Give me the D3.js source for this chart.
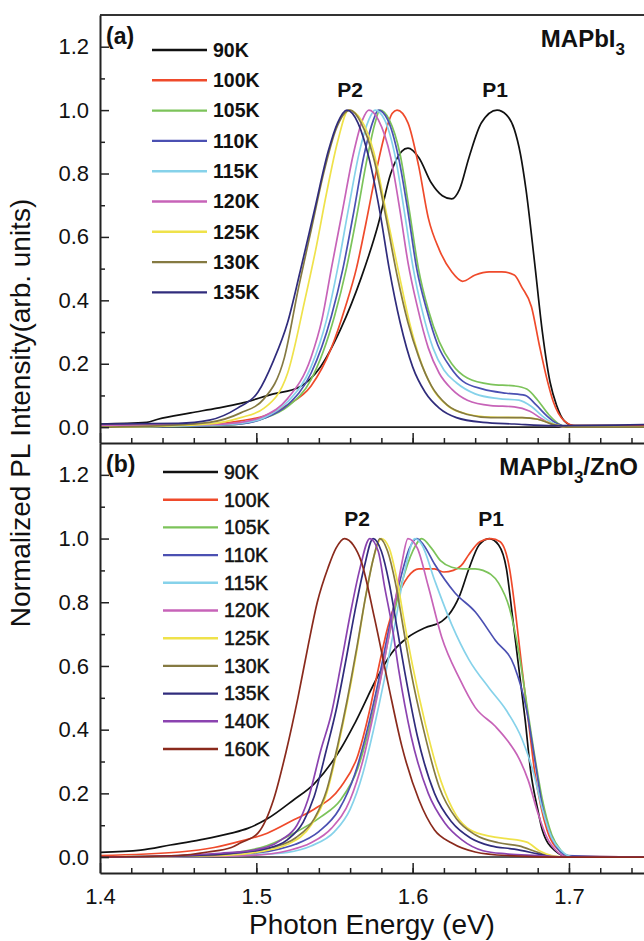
<!DOCTYPE html>
<html>
<head>
<meta charset="utf-8">
<script src="https://cdn.jsdelivr.net/npm/d3@7"></script>
<style>
  body { margin: 0; background: #fff; }
  text { font-family: 'Liberation Sans', Arial, sans-serif; fill: #111; }
</style>
</head>
<body>
<div id="chart"></div>
<script>
// tick values
const energyTicks = [1.4, 1.5, 1.6, 1.7]
const energyMinor = d3.range(1.42, 1.75, 0.02)
const intensityTicks = [0, 0.2, 0.4, 0.6, 0.8, 1.0, 1.2]
const intensityMinor = [0.1, 0.3, 0.5, 0.7, 0.9, 1.1]

// legend labels + colours
const tempsA = ['90K', '100K', '105K', '110K', '115K', '120K', '125K', '130K', '135K']
const tempsB = ['90K', '100K', '105K', '110K', '115K', '120K', '125K', '130K', '135K', '140K', '160K']
const tempColors = {
  '90K': '#111111', '100K': '#ef4a2b', '105K': '#7cc35a', '110K': '#4b50b2',
  '115K': '#86d2ea', '120K': '#c763b8', '125K': '#efe24a', '130K': '#857a42',
  '135K': '#302c7c', '140K': '#8b43b0', '160K': '#8a2a1c'
}

// (a) MAPbI3, [photon energy eV, normalized PL]
const a90K = [[1.40,0.01],[1.43,0.015],[1.437,0.025],[1.458,0.045],[1.475,0.06],[1.49,0.075],[1.511,0.105],[1.527,0.125],[1.541,0.19],[1.554,0.31],[1.567,0.47],[1.578,0.64],[1.586,0.80],[1.593,0.87],[1.597,0.88],[1.604,0.85],[1.612,0.77],[1.619,0.73],[1.625,0.72],[1.63,0.75],[1.636,0.85],[1.644,0.96],[1.654,1.0],[1.66,0.985],[1.665,0.94],[1.669,0.86],[1.6725,0.75],[1.678,0.52],[1.683,0.30],[1.688,0.14],[1.692,0.07],[1.697,0.02],[1.703,0.005],[1.75,0.005]]
const a100K = [[1.40,0.005],[1.469,0.008],[1.49,0.02],[1.505,0.035],[1.52,0.07],[1.535,0.13],[1.548,0.25],[1.557,0.38],[1.564,0.50],[1.57,0.64],[1.576,0.79],[1.582,0.92],[1.587,0.99],[1.59,1.0],[1.597,0.96],[1.604,0.82],[1.61,0.66],[1.617,0.56],[1.625,0.49],[1.632,0.46],[1.64,0.48],[1.649,0.49],[1.657,0.49],[1.665,0.48],[1.67,0.44],[1.676,0.38],[1.681,0.26],[1.686,0.15],[1.69,0.08],[1.697,0.02],[1.704,0.005],[1.75,0.005]]
const a105K = [[1.40,0.0],[1.47,0.004],[1.49,0.01],[1.505,0.028],[1.52,0.065],[1.535,0.15],[1.55,0.35],[1.5576,0.50],[1.564,0.66],[1.571,0.85],[1.576,0.96],[1.579,1.0],[1.585,0.97],[1.592,0.86],[1.598,0.68],[1.6037,0.50],[1.61,0.37],[1.617,0.27],[1.625,0.20],[1.635,0.155],[1.65,0.135],[1.665,0.13],[1.673,0.12],[1.68,0.085],[1.687,0.04],[1.693,0.012],[1.70,0.0],[1.75,0.0]]
const a110K = [[1.40,0.0],[1.47,0.005],[1.49,0.01],[1.505,0.028],[1.52,0.07],[1.535,0.17],[1.548,0.35],[1.5554,0.50],[1.562,0.67],[1.569,0.86],[1.575,0.97],[1.578,1.0],[1.584,0.97],[1.591,0.85],[1.597,0.68],[1.6026,0.50],[1.609,0.37],[1.616,0.26],[1.624,0.19],[1.632,0.145],[1.645,0.12],[1.66,0.107],[1.672,0.10],[1.679,0.07],[1.686,0.035],[1.692,0.012],[1.70,0.0],[1.75,0.0]]
const a115K = [[1.40,0.0],[1.47,0.006],[1.49,0.012],[1.505,0.03],[1.52,0.08],[1.535,0.19],[1.545,0.34],[1.552,0.50],[1.559,0.69],[1.566,0.87],[1.572,0.97],[1.576,1.0],[1.582,0.97],[1.589,0.85],[1.595,0.67],[1.6004,0.50],[1.606,0.37],[1.613,0.25],[1.62,0.18],[1.628,0.14],[1.64,0.105],[1.655,0.09],[1.668,0.085],[1.676,0.065],[1.683,0.035],[1.69,0.012],[1.698,0.0],[1.75,0.0]]
const a120K = [[1.40,0.005],[1.47,0.008],[1.49,0.015],[1.505,0.035],[1.52,0.09],[1.535,0.22],[1.542,0.34],[1.548,0.50],[1.555,0.68],[1.562,0.86],[1.568,0.97],[1.572,1.0],[1.578,0.97],[1.586,0.85],[1.592,0.68],[1.597,0.52],[1.603,0.38],[1.61,0.25],[1.617,0.17],[1.625,0.12],[1.635,0.085],[1.65,0.068],[1.665,0.064],[1.675,0.05],[1.683,0.025],[1.69,0.008],[1.70,0.0],[1.75,0.0]]
const a125K = [[1.40,0.0],[1.44,0.003],[1.47,0.01],[1.49,0.03],[1.505,0.06],[1.52,0.17],[1.531,0.40],[1.538,0.56],[1.545,0.74],[1.552,0.90],[1.559,1.0],[1.567,0.97],[1.575,0.87],[1.583,0.68],[1.591,0.49],[1.598,0.33],[1.605,0.21],[1.613,0.12],[1.623,0.065],[1.636,0.04],[1.65,0.032],[1.67,0.03],[1.68,0.025],[1.69,0.01],[1.70,0.0],[1.75,0.0]]
const a130K = [[1.40,0.0],[1.44,0.005],[1.47,0.015],[1.49,0.045],[1.505,0.09],[1.518,0.22],[1.527,0.44],[1.535,0.62],[1.543,0.80],[1.551,0.94],[1.56,1.0],[1.567,0.96],[1.575,0.85],[1.583,0.66],[1.59,0.48],[1.597,0.33],[1.604,0.22],[1.612,0.13],[1.622,0.07],[1.635,0.04],[1.65,0.03],[1.67,0.03],[1.68,0.025],[1.69,0.008],[1.70,0.0],[1.75,0.0]]
const a135K = [[1.40,0.01],[1.45,0.012],[1.47,0.022],[1.488,0.06],[1.501,0.11],[1.511,0.21],[1.52,0.33],[1.528,0.49],[1.537,0.68],[1.546,0.87],[1.552,0.96],[1.558,1.0],[1.565,0.96],[1.572,0.85],[1.579,0.68],[1.585,0.50],[1.592,0.33],[1.60,0.19],[1.608,0.11],[1.617,0.06],[1.628,0.03],[1.645,0.015],[1.665,0.01],[1.69,0.005],[1.75,0.008]]

// (b) MAPbI3/ZnO
const b90K = [[1.40,0.015],[1.426,0.022],[1.445,0.038],[1.464,0.054],[1.484,0.075],[1.4945,0.09],[1.507,0.12],[1.524,0.18],[1.537,0.23],[1.554,0.34],[1.563,0.42],[1.578,0.57],[1.5865,0.64],[1.597,0.69],[1.608,0.72],[1.6186,0.74],[1.623,0.76],[1.63,0.82],[1.636,0.905],[1.6425,0.98],[1.649,1.0],[1.655,0.98],[1.66,0.905],[1.664,0.75],[1.668,0.59],[1.672,0.43],[1.6755,0.27],[1.68,0.15],[1.683,0.084],[1.691,0.02],[1.70,0.0],[1.75,0.0]]
const b100K = [[1.40,0.005],[1.451,0.016],[1.473,0.03],[1.49,0.05],[1.507,0.075],[1.524,0.117],[1.537,0.15],[1.554,0.22],[1.565,0.32],[1.572,0.45],[1.578,0.59],[1.584,0.72],[1.589,0.80],[1.597,0.88],[1.604,0.905],[1.614,0.905],[1.62,0.895],[1.626,0.90],[1.631,0.915],[1.636,0.95],[1.643,0.99],[1.65,1.0],[1.656,0.99],[1.662,0.905],[1.666,0.76],[1.67,0.59],[1.674,0.43],[1.678,0.27],[1.682,0.16],[1.686,0.084],[1.694,0.02],[1.702,0.002],[1.75,0.0]]
const b105K = [[1.40,0.0],[1.47,0.008],[1.503,0.03],[1.524,0.075],[1.5415,0.127],[1.554,0.18],[1.565,0.28],[1.572,0.40],[1.579,0.55],[1.586,0.72],[1.593,0.86],[1.60,0.96],[1.6058,1.0],[1.612,0.97],[1.618,0.93],[1.625,0.91],[1.632,0.905],[1.64,0.905],[1.645,0.90],[1.655,0.86],[1.662,0.78],[1.668,0.64],[1.673,0.48],[1.678,0.32],[1.683,0.18],[1.689,0.07],[1.695,0.02],[1.70,0.0],[1.75,0.0]]
const b110K = [[1.40,0.0],[1.47,0.004],[1.49,0.008],[1.51,0.02],[1.525,0.04],[1.54,0.08],[1.553,0.15],[1.563,0.26],[1.571,0.40],[1.578,0.55],[1.585,0.72],[1.592,0.87],[1.598,0.97],[1.6026,1.0],[1.607,0.98],[1.614,0.92],[1.627,0.83],[1.64,0.77],[1.653,0.68],[1.665,0.60],[1.673,0.46],[1.678,0.31],[1.683,0.16],[1.69,0.05],[1.699,0.005],[1.75,0.0]]
const b115K = [[1.40,0.0],[1.48,0.004],[1.50,0.008],[1.52,0.015],[1.535,0.035],[1.55,0.08],[1.56,0.15],[1.568,0.26],[1.575,0.40],[1.582,0.56],[1.589,0.74],[1.595,0.90],[1.6015,1.0],[1.606,0.98],[1.614,0.87],[1.625,0.73],[1.636,0.62],[1.649,0.53],[1.66,0.46],[1.67,0.37],[1.677,0.27],[1.683,0.15],[1.689,0.06],[1.695,0.02],[1.703,0.0],[1.75,0.0]]
const b120K = [[1.40,0.0],[1.48,0.003],[1.50,0.006],[1.52,0.02],[1.535,0.045],[1.548,0.09],[1.56,0.18],[1.568,0.30],[1.575,0.45],[1.582,0.62],[1.588,0.78],[1.593,0.92],[1.597,1.0],[1.603,0.97],[1.61,0.85],[1.6186,0.69],[1.63,0.56],[1.64,0.47],[1.653,0.41],[1.66,0.37],[1.668,0.31],[1.674,0.24],[1.68,0.14],[1.686,0.06],[1.693,0.015],[1.70,0.0],[1.75,0.0]]
const b125K = [[1.40,0.0],[1.48,0.005],[1.50,0.015],[1.52,0.04],[1.535,0.10],[1.545,0.20],[1.552,0.34],[1.558,0.48],[1.564,0.64],[1.57,0.82],[1.575,0.94],[1.58,1.0],[1.585,0.97],[1.59,0.87],[1.595,0.73],[1.60,0.60],[1.608,0.42],[1.618,0.24],[1.628,0.13],[1.637,0.085],[1.65,0.065],[1.66,0.058],[1.673,0.047],[1.681,0.02],[1.689,0.005],[1.70,0.0],[1.75,0.0]]
const b130K = [[1.40,0.0],[1.47,0.005],[1.49,0.015],[1.51,0.03],[1.525,0.06],[1.537,0.12],[1.545,0.21],[1.552,0.35],[1.558,0.49],[1.564,0.65],[1.57,0.82],[1.575,0.94],[1.579,1.0],[1.584,0.96],[1.589,0.86],[1.594,0.72],[1.599,0.58],[1.607,0.40],[1.617,0.22],[1.628,0.12],[1.64,0.07],[1.655,0.045],[1.668,0.035],[1.68,0.015],[1.69,0.0],[1.75,0.0]]
const b135K = [[1.40,0.0],[1.46,0.005],[1.485,0.012],[1.505,0.025],[1.52,0.055],[1.53,0.11],[1.537,0.19],[1.545,0.34],[1.551,0.46],[1.557,0.61],[1.563,0.77],[1.569,0.91],[1.5747,1.0],[1.58,0.96],[1.585,0.86],[1.59,0.72],[1.595,0.58],[1.603,0.38],[1.614,0.20],[1.625,0.11],[1.637,0.06],[1.65,0.035],[1.665,0.025],[1.68,0.01],[1.69,0.0],[1.75,0.0]]
const b140K = [[1.40,0.0],[1.45,0.005],[1.477,0.012],[1.4985,0.022],[1.516,0.054],[1.526,0.10],[1.533,0.18],[1.5415,0.34],[1.548,0.45],[1.554,0.60],[1.56,0.76],[1.566,0.90],[1.5726,1.0],[1.578,0.96],[1.582,0.85],[1.587,0.72],[1.591,0.59],[1.599,0.38],[1.61,0.20],[1.6206,0.107],[1.6315,0.054],[1.645,0.02],[1.66,0.01],[1.68,0.005],[1.70,0.0],[1.75,0.0]]
const b160K = [[1.40,0.0],[1.45,0.005],[1.469,0.016],[1.484,0.03],[1.49,0.045],[1.501,0.075],[1.511,0.18],[1.519,0.33],[1.5266,0.50],[1.533,0.66],[1.539,0.80],[1.546,0.91],[1.551,0.97],[1.5565,1.0],[1.562,0.98],[1.567,0.93],[1.5756,0.75],[1.5845,0.54],[1.593,0.35],[1.604,0.18],[1.614,0.085],[1.625,0.044],[1.64,0.016],[1.66,0.005],[1.70,0.0],[1.75,0.0]]

const seriesA = [a90K, a100K, a105K, a110K, a115K, a120K, a125K, a130K, a135K]
const seriesB = [b90K, b100K, b105K, b110K, b115K, b120K, b125K, b130K, b135K, b140K, b160K]

const width = 644
const height = 941
const left = 100
const right = 644

const svg = d3
  .select('#chart')
  .append('svg')
  .attr('width', width)
  .attr('height', height)

svg.append('rect').attr('width', width).attr('height', height).attr('fill', '#fff')

const xScale = d3.scaleLinear().domain([1.4, 1.748]).range([left, right])

const line = d3
  .line()
  .x(d => xScale(d[0]))
  .y(d => d[1])
  .curve(d3.curveMonotoneX)

function panel(opts) {
  const yScale = d3.scaleLinear().domain([-0.05, 1.3]).range([opts.bottom, opts.top])
  const g = svg.append('g')

  g.append('clipPath')
    .attr('id', 'clip-' + opts.id)
    .append('rect')
    .attr('x', left)
    .attr('y', opts.top)
    .attr('width', right - left)
    .attr('height', opts.bottom - opts.top)

  // zero line
  g.append('line')
    .attr('x1', left)
    .attr('x2', right)
    .attr('y1', yScale(0))
    .attr('y2', yScale(0))
    .attr('stroke', '#222')
    .attr('stroke-width', 1.6)

  const curves = g.append('g').attr('clip-path', 'url(#clip-' + opts.id + ')')
  curves
    .selectAll('path')
    .data(opts.series)
    .enter()
    .append('path')
    .attr('fill', 'none')
    .attr('stroke', (d, i) => tempColors[opts.temps[i]])
    .attr('stroke-width', 1.7)
    .attr('d', d => line(d.map(p => [p[0], yScale(p[1])])))

  // y axis, ticks pointing in
  g.append('g')
    .attr('transform', `translate(${left},0)`)
    .call(
      d3.axisLeft(yScale)
        .tickValues(intensityTicks)
        .tickSize(-9)
        .tickSizeOuter(0)
        .tickPadding(11)
        .tickFormat(d3.format('.1f'))
    )
  g.append('g')
    .attr('transform', `translate(${left},0)`)
    .call(d3.axisLeft(yScale).tickValues(intensityMinor).tickSize(-5).tickFormat(''))
    .select('.domain').remove()

  // x axis at panel bottom
  const xAxis = d3.axisBottom(xScale)
    .tickValues(energyTicks)
    .tickSize(-10)
    .tickSizeOuter(0)
    .tickPadding(15)
    .tickFormat(opts.labels ? d3.format('.1f') : '')
  g.append('g').attr('transform', `translate(0,${opts.bottom})`).call(xAxis)
  g.append('g')
    .attr('transform', `translate(0,${opts.bottom})`)
    .call(d3.axisBottom(xScale).tickValues(energyMinor).tickSize(-5).tickFormat(''))
    .select('.domain').remove()

  g.selectAll('.domain').attr('stroke', '#222').attr('stroke-width', 2)
  g.selectAll('.tick line').attr('stroke', '#222').attr('stroke-width', 1.5)
  g.selectAll('.tick text')
    .attr('font-size', 22)
    .attr('font-family', "'Liberation Sans', Arial, sans-serif")
    .attr('fill', '#222')

  // legend
  const leg = g.append('g')
  opts.temps.forEach((t, i) => {
    const ly = opts.legY + i * opts.legStep
    leg.append('line')
      .attr('x1', opts.legX)
      .attr('x2', opts.legX + 55)
      .attr('y1', ly)
      .attr('y2', ly)
      .attr('stroke', tempColors[t])
      .attr('stroke-width', 2.4)
    leg.append('text')
      .attr('x', opts.legX + 61)
      .attr('y', ly)
      .attr('dy', '0.35em')
      .attr('font-size', 19.5)
      .attr('font-weight', opts.legBold ? 'bold' : 'normal')
      .attr('stroke', opts.legBold ? 'none' : '#111')
      .attr('stroke-width', 0.5)
      .text(t)
  })

  g.append('text')
    .attr('x', 106)
    .attr('y', opts.top + 29)
    .attr('font-size', 23)
    .attr('font-weight', 'bold')
    .text(opts.tag)

  const name = g.append('text')
    .attr('x', opts.nameX)
    .attr('y', opts.top + 32)
    .attr('text-anchor', 'end')
    .attr('font-size', 24)
    .attr('font-weight', 'bold')
  name.append('tspan').text('MAPbI')
  name.append('tspan').attr('dy', 8).attr('font-size', 17).text('3')
  if (opts.suffix) name.append('tspan').attr('dy', -8).text(opts.suffix)

  g.append('text')
    .attr('x', opts.p2X)
    .attr('y', opts.pY)
    .attr('text-anchor', 'middle')
    .attr('font-size', 21)
    .attr('font-weight', 'bold')
    .text('P2')
  g.append('text')
    .attr('x', opts.p1X)
    .attr('y', opts.pY)
    .attr('text-anchor', 'middle')
    .attr('font-size', 21)
    .attr('font-weight', 'bold')
    .text('P1')
}

// frame top
svg.append('line')
  .attr('x1', left)
  .attr('x2', right)
  .attr('y1', 15)
  .attr('y2', 15)
  .attr('stroke', '#333')
  .attr('stroke-width', 2)

panel({
  id: 'a', top: 15, bottom: 443, series: seriesA, temps: tempsA, labels: false,
  legX: 152, legY: 50, legStep: 30.3, legBold: true, tag: '(a)',
  nameX: 625, suffix: '', p2X: 350, p1X: 495, pY: 97
})
panel({
  id: 'b', top: 443, bottom: 873, series: seriesB, temps: tempsB, labels: true,
  legX: 163, legY: 472, legStep: 27.7, legBold: false, tag: '(b)',
  nameX: 638, suffix: '/ZnO', p2X: 357, p1X: 491, pY: 526
})

// axis titles
svg.append('text')
  .attr('transform', 'translate(30,413) rotate(-90)')
  .attr('text-anchor', 'middle')
  .attr('font-size', 28)
  .attr('fill', '#222')
  .text('Normalized PL Intensity(arb. units)')

svg.append('text')
  .attr('x', 372)
  .attr('y', 934)
  .attr('text-anchor', 'middle')
  .attr('font-size', 28)
  .attr('fill', '#222')
  .text('Photon Energy (eV)')
</script>
</body>
</html>
